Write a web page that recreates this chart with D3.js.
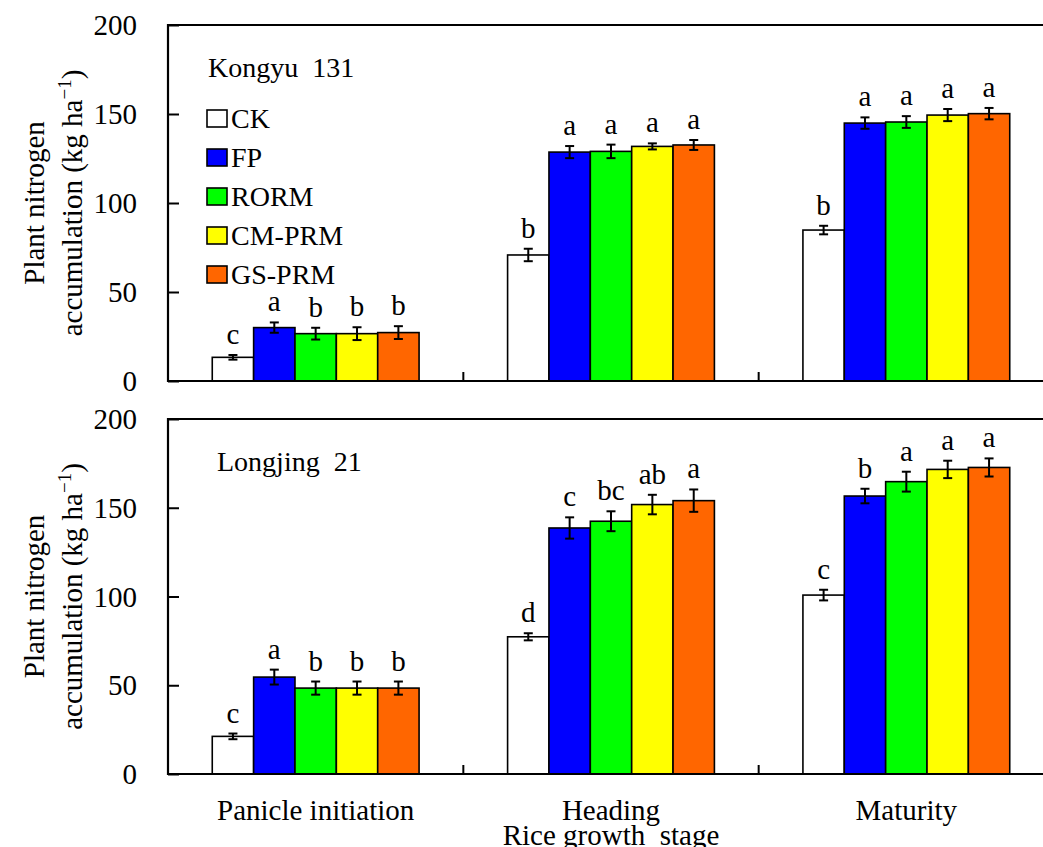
<!DOCTYPE html>
<html>
<head>
<meta charset="utf-8">
<script src="https://cdn.jsdelivr.net/npm/d3@7"></script>
<style>
  html, body { margin: 0; padding: 0; background: #fff; }
  #chart text { font-family: "Liberation Serif", "Times New Roman", "DejaVu Serif", serif; }
</style>
</head>
<body>
<svg id="chart" width="1043" height="847" font-family="Liberation Serif, DejaVu Serif, serif"></svg>
<script>
// Growth stages and nitrogen-management treatments
const stages = ["Panicle initiation", "Heading", "Maturity"];
const treatments = ["CK", "FP", "RORM", "CM-PRM", "GS-PRM"];
const treatmentColors = ["#ffffff", "#0000ff", "#00ff00", "#ffff00", "#ff6600"];
const yTicks = [0, 50, 100, 150, 200];

// Kongyu 131: plant N accumulation (kg/ha), one row per stage
const kongyuMean = [
  [13.3, 30.0, 26.6, 26.6, 27.2],
  [70.8, 128.6, 129.0, 131.8, 132.6],
  [84.8, 144.9, 145.5, 149.4, 150.2]
];
const kongyuErr = [
  [1.3, 2.9, 3.3, 3.6, 3.6],
  [3.5, 3.4, 3.8, 1.7, 2.8],
  [2.4, 3.2, 3.3, 3.4, 3.2]
];
const kongyuLetters = [
  ["c", "a", "b", "b", "b"],
  ["b", "a", "a", "a", "a"],
  ["b", "a", "a", "a", "a"]
];

// Longjing 21
const longjingMean = [
  [21.2, 54.6, 48.4, 48.4, 48.4],
  [77.3, 138.6, 142.4, 151.8, 154.0],
  [100.8, 156.6, 164.7, 171.6, 172.7]
];
const longjingErr = [
  [1.6, 4.2, 3.7, 3.7, 3.7],
  [2.0, 6.0, 5.6, 5.5, 6.3],
  [3.0, 4.1, 5.6, 4.9, 5.1]
];
const longjingLetters = [
  ["c", "a", "b", "b", "b"],
  ["d", "c", "bc", "ab", "a"],
  ["c", "b", "a", "a", "a"]
];

const FONT = "Liberation Serif, DejaVu Serif, serif";
const svg = d3.select("#chart");
const plotLeft = 168, plotRight = 1054;

const label = sel => sel.append("text").attr("font-family", FONT);

const x0 = d3.scaleBand().domain(stages).range([plotLeft, plotRight]).paddingInner(0).paddingOuter(0);
const x1 = d3.scaleBand().domain(treatments).range([0, x0.bandwidth()]).paddingInner(0).paddingOuter(1.07);
const color = d3.scaleOrdinal().domain(treatments).range(treatmentColors);

const panels = [
  { name: "Kongyu 131", mean: kongyuMean, err: kongyuErr, letters: kongyuLetters, top: 25, bottom: 381, legend: true, labelX: 208, labelY: 77 },
  { name: "Longjing 21", mean: longjingMean, err: longjingErr, letters: longjingLetters, top: 419, bottom: 774, legend: false, labelX: 217, labelY: 471 }
];

panels.forEach(p => {
  const y = d3.scaleLinear().domain([0, 200]).range([p.bottom, p.top]);
  const g = svg.append("g");

  const rows = [];
  stages.forEach((s, i) => treatments.forEach((t, j) => {
    rows.push({ stage: s, trt: t, v: p.mean[i][j], e: p.err[i][j], lab: p.letters[i][j] });
  }));

  // bars
  const bars = g.selectAll("g.bar").data(rows).join("g").attr("class", "bar");
  bars.append("rect")
    .attr("x", d => x0(d.stage) + x1(d.trt))
    .attr("y", d => y(d.v))
    .attr("width", x1.bandwidth())
    .attr("height", d => y(0) - y(d.v))
    .attr("fill", d => color(d.trt))
    .attr("stroke", "#000")
    .attr("stroke-width", 1.6);

  // error bars
  const cx = d => x0(d.stage) + x1(d.trt) + x1.bandwidth() / 2;
  bars.append("line")
    .attr("x1", cx).attr("x2", cx)
    .attr("y1", d => y(d.v - d.e)).attr("y2", d => y(d.v + d.e))
    .attr("stroke", "#000").attr("stroke-width", 2);
  [d => d.v - d.e, d => d.v + d.e].forEach(f => {
    bars.append("line")
      .attr("x1", d => cx(d) - 4.5).attr("x2", d => cx(d) + 4.5)
      .attr("y1", d => y(f(d))).attr("y2", d => y(f(d)))
      .attr("stroke", "#000").attr("stroke-width", 2);
  });

  // significance letters
  label(bars)
    .attr("x", cx)
    .attr("y", d => y(d.v + d.e) - 11)
    .attr("text-anchor", "middle")
    .attr("font-size", 29)
    .text(d => d.lab);

  // frame: left, top, bottom
  g.append("path")
    .attr("d", `M${plotRight},${p.top}H${plotLeft}V${p.bottom}H${plotRight}`)
    .attr("fill", "none").attr("stroke", "#000").attr("stroke-width", 2.2);

  // y axis with inward ticks
  const yAxis = d3.axisRight(y).tickValues(yTicks).tickSize(11).tickFormat("");
  g.append("g").attr("transform", `translate(${plotLeft},0)`).call(yAxis)
    .call(a => a.select(".domain").remove())
    .selectAll("line").attr("stroke-width", 2);
  const yl = g.append("g").selectAll("g").data(yTicks).join("g");
  label(yl)
    .attr("x", 137)
    .attr("y", d => y(d))
    .attr("dy", "0.35em")
    .attr("text-anchor", "end")
    .attr("font-size", 29)
    .text(d => d);

  // stage separator ticks on the x axis
  g.selectAll("line.sep").data(stages.slice(1)).join("line")
    .attr("class", "sep")
    .attr("x1", d => x0(d)).attr("x2", d => x0(d))
    .attr("y1", p.bottom).attr("y2", p.bottom - 9)
    .attr("stroke", "#000").attr("stroke-width", 2);

  // cultivar label
  label(g)
    .attr("x", p.labelX)
    .attr("y", p.labelY)
    .attr("font-size", 28)
    .attr("xml:space", "preserve")
    .text(p.name.replace(" ", "  "));

  // y axis title (two lines)
  const cy = (p.top + p.bottom) / 2;
  label(g)
    .attr("transform", `translate(44,${cy}) rotate(-90)`)
    .attr("text-anchor", "middle").attr("font-size", 29)
    .text("Plant nitrogen");
  const t2 = label(g)
    .attr("transform", `translate(82,${cy}) rotate(-90)`)
    .attr("text-anchor", "middle").attr("font-size", 29);
  t2.append("tspan").text("accumulation (kg ha");
  t2.append("tspan").attr("font-size", 19).attr("dy", -11).text("\u22121");
  t2.append("tspan").attr("dy", 11).text(")");

  // legend
  if (p.legend) {
    const items = g.append("g").selectAll("g").data(treatments).join("g")
      .attr("transform", (d, i) => `translate(207,${118 + i * 39})`);
    items.append("rect")
      .attr("x", 0).attr("y", -8).attr("width", 20).attr("height", 17)
      .attr("fill", d => color(d)).attr("stroke", "#000").attr("stroke-width", 1.6);
    label(items)
      .attr("x", 24).attr("y", 10)
      .attr("font-size", 28)
      .text(d => d);
  }
});

// x axis category labels
const xl = svg.append("g").selectAll("g").data(stages).join("g");
label(xl)
  .attr("x", d => x0(d) + x0.bandwidth() / 2)
  .attr("y", 820)
  .attr("text-anchor", "middle")
  .attr("font-size", 29)
  .text(d => d);

label(svg)
  .attr("x", 611).attr("y", 845)
  .attr("text-anchor", "middle")
  .attr("font-size", 29)
  .attr("xml:space", "preserve")
  .text("Rice growth  stage");
</script>
</body>
</html>
